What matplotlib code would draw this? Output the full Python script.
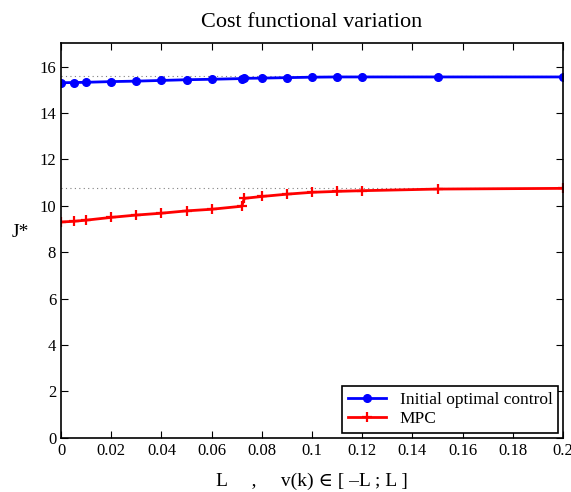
import matplotlib
matplotlib.use('Agg')
import matplotlib.pyplot as plt
from matplotlib.ticker import FormatStrFormatter

plt.rcParams['font.family'] = ['Liberation Serif', 'DejaVu Serif']

L = [0, 0.005, 0.01, 0.02, 0.03, 0.04, 0.05, 0.06, 0.072, 0.073,
     0.08, 0.09, 0.1, 0.11, 0.12, 0.15, 0.2]
j_optimal = [15.3, 15.31, 15.32, 15.35, 15.37, 15.4, 15.43, 15.45, 15.48, 15.49,
             15.5, 15.52, 15.54, 15.55, 15.55, 15.55, 15.55]
j_mpc = [9.3, 9.33, 9.38, 9.5, 9.6, 9.68, 9.78, 9.85, 9.98, 10.32,
         10.4, 10.5, 10.58, 10.62, 10.65, 10.72, 10.75]
ref_optimal = 15.58
ref_mpc = 10.75

fig = plt.figure(figsize=(5.71, 4.92), dpi=100)
ax = fig.add_axes([0.107, 0.110, 0.879, 0.802])

ax.axhline(ref_optimal, color='gray', linestyle=(0, (1, 3)), linewidth=0.8)
ax.axhline(ref_mpc, color='gray', linestyle=(0, (1, 3)), linewidth=0.8)

ax.plot(L, j_optimal, color='blue', linewidth=2, marker='o', markersize=5.5,
        label='Initial optimal control')
ax.plot(L, j_mpc, color='red', linewidth=2, marker='+', markersize=6.5,
        markeredgewidth=1.6, label='MPC')

ax.set_xlim(0, 0.2)
ax.set_ylim(0, 17)
ax.set_xticks([i * 0.02 for i in range(11)])
ax.set_yticks(range(0, 17, 2))
ax.xaxis.set_major_formatter(FormatStrFormatter('%g'))
ax.tick_params(direction='in', top=True, right=True, labelsize=12, length=5)
for s in ax.spines.values():
    s.set_linewidth(1.2)

ax.set_title('Cost functional variation', fontsize=16, pad=12)
ax.set_xlabel('L     ,     v(k) \u2208 [ \u2013L ; L ]', fontsize=14, labelpad=10)
ax.set_ylabel('J*', fontsize=14, rotation=0, labelpad=14)

leg = ax.legend(loc='lower right', fontsize=12.5, fancybox=False,
                edgecolor='black', handlelength=2.2, borderpad=0.3,
                labelspacing=0.2, borderaxespad=0.3, framealpha=1)
leg.get_frame().set_linewidth(1.2)

fig.savefig('out.png', dpi=100)
